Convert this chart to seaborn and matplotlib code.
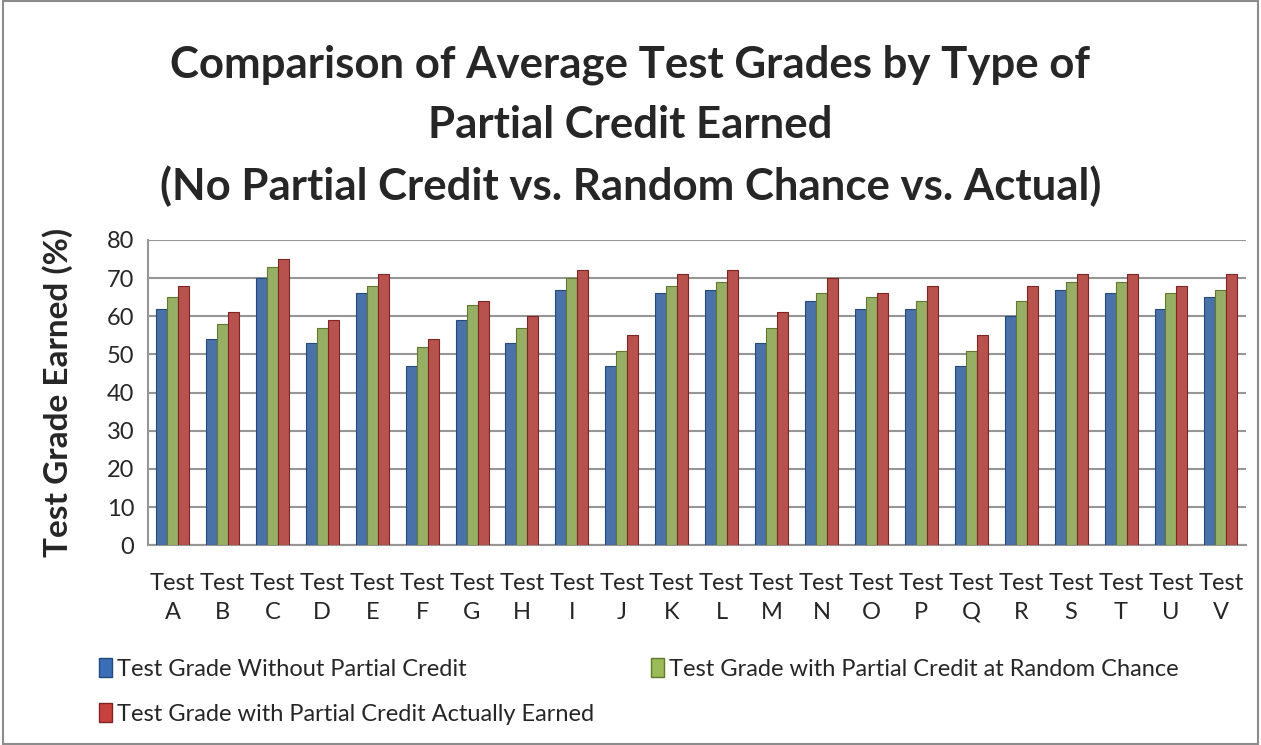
import pandas as pd
import matplotlib.pyplot as plt
import seaborn as sns
from matplotlib.patches import Patch

# Test names and average grades
tests = list("ABCDEFGHIJKLMNOPQRSTUV")
no_partial = [62, 54, 70, 53, 66, 47, 59, 53, 67, 47, 66, 67, 53, 64, 62, 62, 47, 60, 67, 66, 62, 65]
random_chance = [65, 58, 73, 57, 68, 52, 63, 57, 70, 51, 68, 69, 57, 66, 65, 64, 51, 64, 69, 69, 66, 67]
actual = [68, 61, 75, 59, 71, 54, 64, 60, 72, 55, 71, 72, 61, 70, 66, 68, 55, 68, 71, 71, 68, 71]

series = [
    "Test Grade Without Partial Credit",
    "Test Grade with Partial Credit at Random Chance",
    "Test Grade with Partial Credit Actually Earned",
]
colors = ["#3a6fb8", "#9bbb59", "#c9413e"]
edges = ["#24497a", "#5f7a2e", "#7d2523"]

labels = ["Test\n" + t for t in tests]
df = pd.DataFrame({
    "test": labels * 3,
    "grade": no_partial + random_chance + actual,
    "series": [series[0]] * 22 + [series[1]] * 22 + [series[2]] * 22,
})

sns.set_style("white")
plt.rcParams["font.family"] = ["Lato", "DejaVu Sans"]

fig = plt.figure(figsize=(12.61, 7.45), dpi=100)
ax = fig.add_axes([0.117, 0.268, 0.871, 0.41])

sns.barplot(data=df, x="test", y="grade", hue="series", palette=colors,
            width=0.66, gap=0, ax=ax, legend=False, zorder=3)

for i, cont in enumerate(ax.containers):
    for bar in cont:
        bar.set_edgecolor(edges[i])
        bar.set_linewidth(0.8)

ax.set_ylim(0, 80)
ax.set_xlim(-0.5, len(tests) - 0.5)
ax.set_yticks(range(0, 81, 10))
ax.yaxis.grid(True, color="#969696", linewidth=1.5, zorder=0)
ax.set_axisbelow(True)
for side in ["top", "right"]:
    ax.spines[side].set_visible(False)
for side in ["left", "bottom"]:
    ax.spines[side].set_color("#969696")
    ax.spines[side].set_linewidth(1.5)
ax.tick_params(axis="y", labelsize=17, pad=6)
ax.tick_params(axis="x", labelsize=17, pad=20, length=0)
for lbl in ax.get_xticklabels():
    lbl.set_linespacing(1.45)
ax.set_xlabel("")
ax.set_ylabel("Test Grade Earned (%)", fontsize=24, fontweight="bold", labelpad=24)

fig.text(0.5, 0.94, "Comparison of Average Test Grades by Type of\nPartial Credit Earned\n"
         "(No Partial Credit vs. Random Chance vs. Actual)",
         ha="center", va="top", fontsize=31.5, fontweight="bold", linespacing=1.6)

# legend: row 1 = blue, green; row 2 = red (matplotlib fills column by column)
order = [0, 2, 1]
handles = [Patch(facecolor=colors[i], edgecolor=edges[i]) for i in order]
fig.legend(handles, [series[i] for i in order], loc="upper left", bbox_to_anchor=(0.062, 0.145),
           ncol=2, frameon=False, fontsize=17, handlelength=0.55, handleheight=0.85,
           handletextpad=0.2, columnspacing=2.4, labelspacing=1.0)

# outer chart border
fig.patches.append(plt.Rectangle((0.002, 0.002), 0.996, 0.996, transform=fig.transFigure,
                                 fill=False, edgecolor="#8c8c8c", linewidth=1.5))

fig.savefig("out.png", dpi=100)
